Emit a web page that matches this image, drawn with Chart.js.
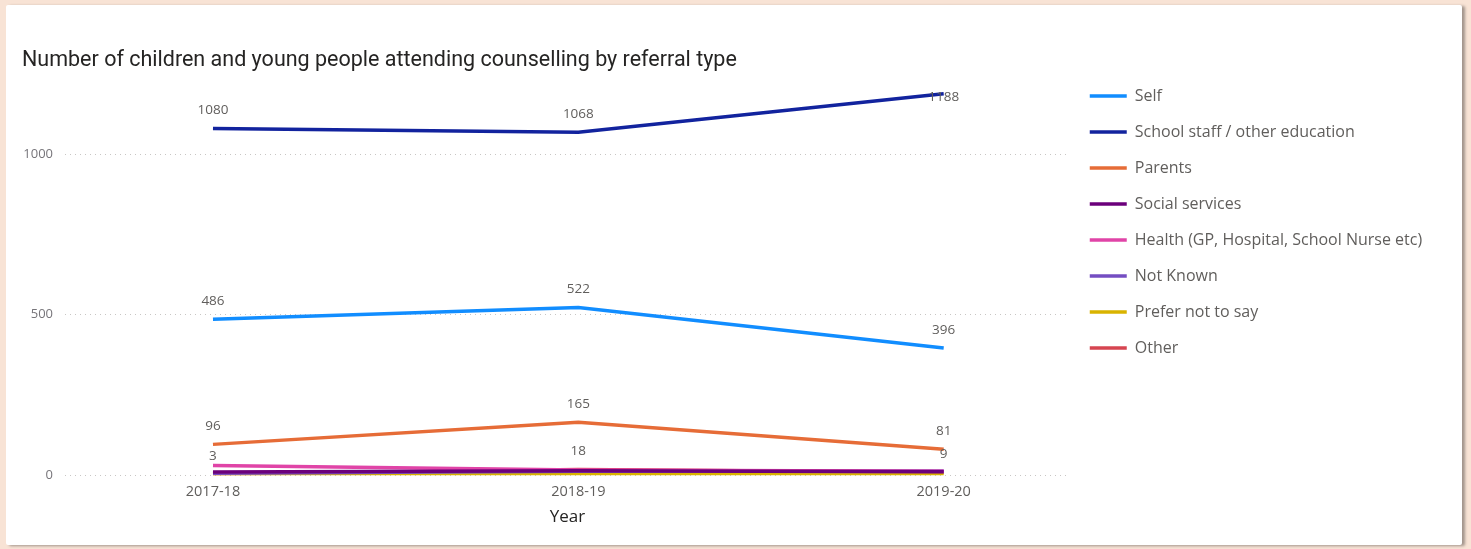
<!DOCTYPE html>
<html>
<head>
<meta charset="utf-8">
<script src="https://cdn.jsdelivr.net/npm/chart.js@4.4.1/dist/chart.umd.min.js"></script>
<style>
  html, body { margin: 0; padding: 0; }
  body { width: 1471px; height: 549px; background: #f8e3d5; position: relative; overflow: hidden; }
  #panel { position: absolute; left: 6px; top: 5px; width: 1456px; height: 540px; background: #fff;
           box-shadow: 3px 1px 3px rgba(0,0,0,0.35); border-radius: 2px; }
  #wrap { position: absolute; left: 0; top: 0; width: 1471px; height: 549px; }
</style>
</head>
<body>
<div id="panel"></div>
<div id="wrap"><canvas id="chart"></canvas></div>
<script>
const years = ["2017-18", "2018-19", "2019-20"];
const yTicks = [0, 500, 1000];

const self = [486, 522, 396];
const schoolStaff = [1080, 1068, 1188];
const parents = [96, 165, 81];
const socialServices = [10, 14, 11];
const health = [30, 16, 12];
const notKnown = [6, 12, 13];
const preferNotToSay = [1, 2, 1];
const other = [3, 18, 9];

const toPoints = arr => arr.map((v, i) => ({ x: i, y: v }));

function series(label, values, color, showValues) {
  return {
    label: label,
    data: toPoints(values),
    borderColor: color,
    backgroundColor: color,
    borderWidth: 3.5,
    pointRadius: 0,
    pointHoverRadius: 0,
    tension: 0,
    showValues: showValues
  };
}

// value labels above the points, pushed down when they would leave the plot
const valueLabels = {
  id: "valueLabels",
  afterDatasetsDraw(chart) {
    const ctx = chart.ctx;
    ctx.save();
    ctx.font = '13.5px "Open Sans"';
    ctx.fillStyle = "#605e5c";
    ctx.textAlign = "center";
    ctx.textBaseline = "middle";
    chart.data.datasets.forEach((ds, i) => {
      if (!ds.showValues) return;
      chart.getDatasetMeta(i).data.forEach((pt, j) => {
        const y = Math.max(pt.y - 18, chart.chartArea.top + 23);
        ctx.fillText(ds.data[j].y, pt.x, y);
      });
    });
    ctx.restore();
  }
};

// give the legend box a little room on the right so long labels are not clipped
const legendRoom = {
  id: "legendRoom",
  afterLayout(chart) {
    if (chart.legend) {
      chart.legend.right += 10;
      chart.legend.width += 10;
    }
  }
};

const ctx = document.getElementById("chart").getContext("2d");

new Chart(ctx, {
  type: "line",
  data: {
    datasets: [
      series("Self", self, "#118dff", true),
      series("School staff / other education", schoolStaff, "#12239e", true),
      series("Parents", parents, "#e66c37", true),
      series("Social services", socialServices, "#6b007b", false),
      series("Health (GP, Hospital, School Nurse etc)", health, "#e044a7", false),
      series("Not Known", notKnown, "#744ec2", false),
      series("Prefer not to say", preferNotToSay, "#d9b300", false),
      series("Other", other, "#d64550", true)
    ]
  },
  options: {
    responsive: true,
    maintainAspectRatio: false,
    animation: false,
    layout: { padding: { left: 22, right: 52, top: 48, bottom: 22 } },
    plugins: {
      tooltip: { enabled: false },
      title: {
        display: true,
        text: "Number of children and young people attending counselling by referral type",
        align: "start",
        color: "#252423",
        font: { family: "Roboto", size: 21.5, weight: "normal" },
        padding: { top: 0, bottom: 0 }
      },
      legend: {
        position: "right",
        align: "start",
        title: { display: true, text: "", font: { size: 10 }, padding: 4 },
        labels: {
          usePointStyle: true,
          pointStyle: "line",
          pointStyleWidth: 37,
          boxHeight: 16,
          color: "#605e5c",
          font: { family: "Open Sans", size: 16 },
          padding: 20
        }
      }
    },
    scales: {
      x: {
        type: "linear",
        min: -0.405,
        max: 2.345,
        afterBuildTicks: scale => { scale.ticks = years.map((_, i) => ({ value: i })); },
        grid: { display: false },
        border: { display: false },
        ticks: {
          callback: v => years[v],
          color: "#605e5c",
          font: { family: "Open Sans", size: 14.5 },
          padding: 0,
          maxRotation: 0
        },
        title: {
          display: true,
          text: "Year",
          color: "#252423",
          font: { family: "Open Sans", size: 17 },
          padding: { top: 6, bottom: 0 }
        }
      },
      y: {
        min: 0,
        max: 1250,
        afterBuildTicks: scale => { scale.ticks = yTicks.map(v => ({ value: v })); },
        afterFit: scale => { scale.width = 43; },
        grid: { color: "#c8c6c4", borderDash: [1, 4], drawTicks: false },
        border: { display: false, dash: [1, 4] },
        ticks: {
          callback: v => String(v),
          color: "#77757a",
          font: { family: "Open Sans", size: 13 },
          padding: 12
        }
      }
    }
  },
  plugins: [valueLabels, legendRoom]
});
</script>
</body>
</html>
